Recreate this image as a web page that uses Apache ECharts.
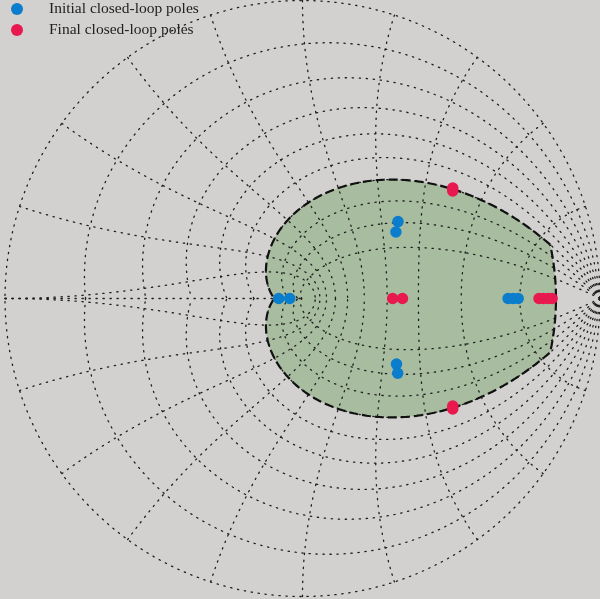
<!DOCTYPE html>
<html>
<head>
<meta charset="utf-8">
<script src="https://cdn.jsdelivr.net/npm/echarts@6/dist/echarts.min.js"></script>
<style>
  html, body { margin: 0; padding: 0; background: #d3d0d0; }
  #chart { width: 600px; height: 599px; }
</style>
</head>
<body>
<div id="chart"></div>
<script>
// Pole locations in the z-plane: [real, imaginary]
const initialPoles = [
  [-0.080, 0], [-0.043, 0],
  [0.321, 0.258], [0.314, 0.223],
  [0.316, -0.220], [0.320, -0.251],
  [0.691, 0], [0.708, 0], [0.725, 0]
];
const finalPoles = [
  [0.303, 0], [0.336, 0],
  [0.505, 0.371], [0.505, 0.361],
  [0.505, -0.361], [0.505, -0.371],
  [0.795, 0], [0.810, 0], [0.826, 0], [0.839, 0]
];
const seriesNames = ['Initial closed-loop poles', 'Final closed-loop poles'];

// z-plane grid: constant damping ratios and natural frequencies (multiples of pi/(10T))
const zetaLevels = [0, 0.1, 0.2, 0.3, 0.4, 0.5, 0.6, 0.7, 0.8, 0.9];
const wnSteps = [1, 2, 3, 4, 5, 6, 7, 8, 9, 10];

// Design region: damping ratio at least zetaMin, pole radius at most rMax
const zetaMin = 0.6;
const rMax = 0.852;

const N = 240;

function zetaCurve(zeta, sign) {
  const a = zeta / Math.sqrt(1 - zeta * zeta);
  const pts = [];
  for (let i = 0; i <= N; i++) {
    const th = Math.PI * i / N;
    const r = Math.exp(-a * th);
    pts.push([r * Math.cos(th), sign * r * Math.sin(th)]);
  }
  return pts;
}

function wnCurve(k, sign) {
  const w = k * Math.PI / 10;
  const pts = [];
  for (let i = 0; i <= N; i++) {
    const zeta = i / N;
    const r = Math.exp(-zeta * w);
    const ang = w * Math.sqrt(1 - zeta * zeta);
    pts.push([r * Math.cos(ang), sign * r * Math.sin(ang)]);
  }
  return pts;
}

function regionBoundary() {
  const a = zetaMin / Math.sqrt(1 - zetaMin * zetaMin);
  const th0 = -Math.log(rMax) / a;
  const pts = [];
  // upper spiral from the radius limit round to the negative real axis
  for (let i = 0; i <= N; i++) {
    const th = th0 + (Math.PI - th0) * i / N;
    const r = Math.exp(-a * th);
    pts.push([r * Math.cos(th), r * Math.sin(th)]);
  }
  // lower spiral back out
  for (let i = N; i >= 0; i--) {
    const th = th0 + (Math.PI - th0) * i / N;
    const r = Math.exp(-a * th);
    pts.push([r * Math.cos(th), -r * Math.sin(th)]);
  }
  // closing arc of the radius limit
  for (let i = 0; i <= 60; i++) {
    const th = -th0 + 2 * th0 * i / 60;
    pts.push([rMax * Math.cos(th), rMax * Math.sin(th)]);
  }
  return pts;
}

const gridStyle = { color: '#1e1e1e', width: 1.3, type: [1.3, 5.7], cap: 'round' };

function gridLine(data) {
  return {
    type: 'line', data: data, showSymbol: false, silent: true, clip: false,
    z: 2, lineStyle: gridStyle, animation: false
  };
}

const series = [];
const boundary = regionBoundary();

// shaded region
series.push({
  type: 'custom',
  silent: true,
  z: 1,
  data: [0],
  renderItem: function (params, api) {
    return {
      type: 'polygon',
      shape: { points: boundary.map(p => api.coord(p)) },
      style: { fill: '#a8bda0', stroke: null }
    };
  },
  animation: false
});

zetaLevels.forEach(z => {
  series.push(gridLine(zetaCurve(z, 1)));
  series.push(gridLine(zetaCurve(z, -1)));
});
wnSteps.forEach(k => {
  series.push(gridLine(wnCurve(k, 1)));
  series.push(gridLine(wnCurve(k, -1)));
});
series.push(gridLine([[-1, 0], [0, 0]]));

// region border
series.push({
  type: 'line', data: boundary.concat([boundary[0]]), showSymbol: false, silent: true,
  clip: false, z: 3, animation: false,
  lineStyle: { color: '#111', width: 2.2, type: [9, 4] }
});

series.push({
  name: seriesNames[0], type: 'scatter', data: initialPoles, symbolSize: 11.5,
  itemStyle: { color: '#0a7dcc', opacity: 1 }, z: 5, animation: false
});
series.push({
  name: seriesNames[1], type: 'scatter', data: finalPoles, symbolSize: 11.5,
  itemStyle: { color: '#e8194e', opacity: 1 }, z: 5, animation: false
});

const chart = echarts.init(document.getElementById('chart'), null, { renderer: 'canvas' });
chart.setOption({
  backgroundColor: '#d3d0d0',
  animation: false,
  grid: { left: 5, top: 0.5, width: 596, height: 596 },
  xAxis: { type: 'value', min: -1, max: 1, show: false },
  yAxis: { type: 'value', min: -1, max: 1, show: false },
  legend: {
    data: seriesNames,
    orient: 'vertical',
    left: 6,
    top: -4,
    padding: 5,
    itemWidth: 12,
    itemHeight: 12,
    itemGap: 5,
    icon: 'circle',
    selectedMode: false,
    textStyle: {
      fontFamily: 'Liberation Serif',
      fontSize: 15.5,
      lineHeight: 15,
      color: '#1e1e1e',
      padding: [0, 0, 0, 21]
    }
  },
  series: series
});
</script>
</body>
</html>
